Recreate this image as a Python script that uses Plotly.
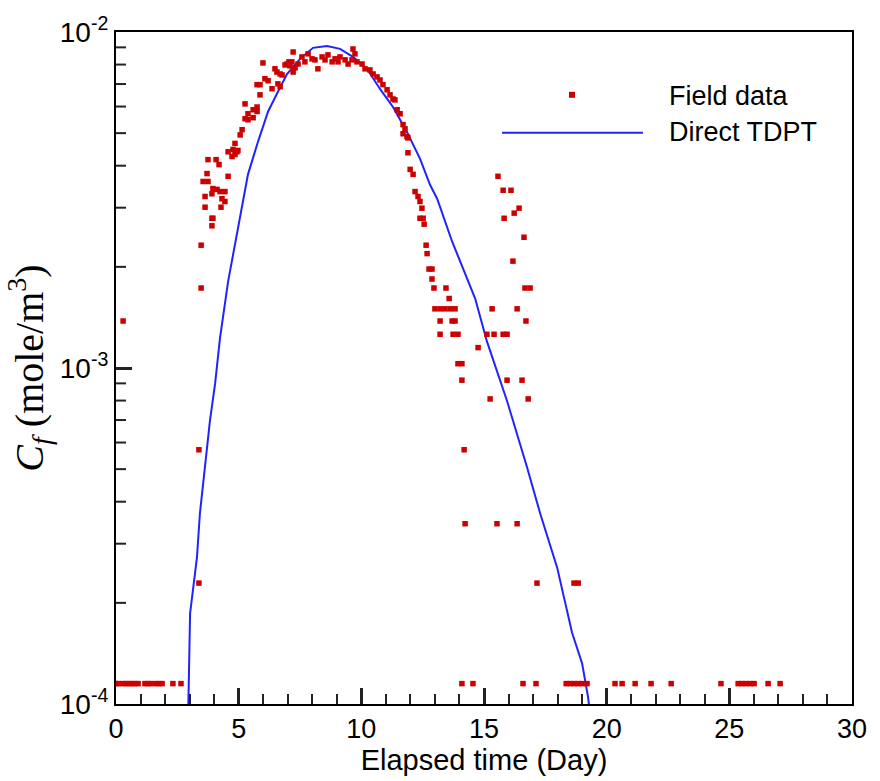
import math
import plotly.graph_objects as go

# ---------------- data ----------------
# Field data: elapsed time (day) and concentration (mole/m^3)
field_day = [
    0.0, 0.1, 0.29, 0.41, 0.53, 0.65, 0.77, 0.9, 1.18, 1.3, 1.43, 1.63, 1.75, 1.88, 2.32, 2.65,
    14.1, 14.55, 16.59, 17.12, 18.35, 18.51, 18.67, 18.84, 19.0, 19.2, 20.34, 20.63, 21.16,
    21.81, 22.63, 24.66, 25.36, 25.52, 25.68, 25.85, 26.01, 26.58, 27.07,
    0.29, 3.47, 3.38, 3.38, 3.47,
    3.75, 4.08, 4.20, 3.71, 3.55, 3.75, 3.95, 4.12, 4.24, 4.44, 3.91, 4.32, 4.44, 3.63, 3.63,
    4.28, 3.91, 3.95, 3.91, 4.57,
    5.14, 5.06, 4.85, 4.77, 4.57, 4.73, 4.93, 4.97, 4.85,
    5.26, 5.75, 5.59, 5.38, 5.26, 5.38, 5.59, 5.75,
    5.75, 5.87, 6.07, 6.20, 6.36, 6.60, 6.69, 5.87,
    5.99, 6.48, 6.56, 6.69, 6.77, 6.97, 7.09, 7.22, 7.17,
    7.22, 6.89, 7.05, 7.30, 7.42, 7.58, 7.70, 7.83, 7.99, 8.11, 8.23, 8.40, 8.52, 8.64, 8.81,
    8.93, 9.05, 9.13, 9.34, 9.46, 9.62, 9.66, 9.74, 9.82,
    10.03, 10.15, 10.35, 10.48, 10.64, 10.76, 10.88, 11.05, 11.17, 11.29,
    11.37, 11.46, 11.58, 11.70, 11.78, 11.70, 11.86, 11.90, 11.90, 11.99, 12.11, 12.19, 12.31,
    12.39, 12.47, 12.39, 12.52, 12.56, 12.64, 12.68, 12.76, 12.88, 12.88, 12.96, 13.45, 13.58,
    13.00, 13.21, 13.41, 13.62, 13.82, 13.21, 13.70, 13.82, 13.21, 13.74, 13.94, 14.76,
    13.94, 14.10, 14.10, 14.19, 14.23,
    15.12, 15.41, 15.78, 15.94, 15.33, 15.57, 15.78, 16.10, 16.43, 16.23, 15.82, 16.63, 16.18,
    16.67, 16.88, 16.35, 16.71, 15.94, 16.55, 15.25, 16.80, 15.53, 16.35, 17.16, 18.67, 18.84,
]
field_conc = [
    1.15e-4, 1.15e-4, 1.15e-4, 1.15e-4, 1.15e-4, 1.15e-4, 1.15e-4, 1.15e-4, 1.15e-4, 1.15e-4,
    1.15e-4, 1.15e-4, 1.15e-4, 1.15e-4, 1.15e-4, 1.15e-4,
    1.15e-4, 1.15e-4, 1.15e-4, 1.15e-4, 1.15e-4, 1.15e-4, 1.15e-4, 1.15e-4, 1.15e-4, 1.15e-4,
    1.15e-4, 1.15e-4, 1.15e-4, 1.15e-4, 1.15e-4, 1.15e-4, 1.15e-4, 1.15e-4, 1.15e-4, 1.15e-4,
    1.15e-4, 1.15e-4, 1.15e-4,
    1.38e-3, 1.73e-3, 5.71e-4, 2.29e-4, 2.32e-3,
    4.17e-3, 4.17e-3, 4.03e-3, 3.79e-3, 3.59e-3, 3.59e-3, 3.42e-3, 3.40e-3, 3.35e-3, 3.35e-3,
    3.30e-3, 3.19e-3, 3.13e-3, 3.24e-3, 3.01e-3,
    3.01e-3, 2.79e-3, 2.79e-3, 2.65e-3, 3.72e-3,
    5.12e-3, 4.94e-3, 4.66e-3, 4.47e-3, 4.40e-3, 4.26e-3, 4.40e-3, 4.44e-3, 4.32e-3,
    6.11e-3, 5.98e-3, 5.87e-3, 5.71e-3, 5.52e-3, 5.48e-3, 5.56e-3, 5.80e-3,
    6.97e-3, 6.97e-3, 7.26e-3, 7.16e-3, 6.78e-3, 7.01e-3, 6.87e-3, 6.50e-3,
    8.09e-3, 7.77e-3, 7.60e-3, 7.50e-3, 7.45e-3, 8.03e-3, 7.93e-3, 7.60e-3, 8.15e-3,
    8.72e-3, 7.98e-3, 8.15e-3, 7.82e-3, 8.03e-3, 8.43e-3, 8.15e-3, 8.61e-3, 8.32e-3, 8.26e-3,
    7.77e-3, 8.43e-3, 8.26e-3, 8.55e-3, 8.15e-3,
    8.32e-3, 8.15e-3, 8.43e-3, 8.26e-3, 8.03e-3, 8.26e-3, 8.90e-3, 8.61e-3, 8.15e-3,
    8.03e-3, 7.77e-3, 7.71e-3, 7.50e-3, 7.35e-3, 7.20e-3, 6.97e-3, 6.73e-3, 6.50e-3, 6.32e-3,
    6.28e-3, 5.87e-3, 5.71e-3, 5.30e-3, 5.15e-3, 4.98e-3, 4.88e-3, 4.84e-3, 4.37e-3, 3.90e-3,
    3.77e-3, 3.35e-3, 3.24e-3,
    3.13e-3, 2.99e-3, 2.79e-3, 2.79e-3, 2.68e-3, 2.32e-3, 2.19e-3, 1.97e-3, 1.97e-3, 1.84e-3,
    1.73e-3, 1.73e-3, 1.61e-3,
    1.50e-3, 1.50e-3, 1.50e-3, 1.50e-3, 1.50e-3, 1.38e-3, 1.38e-3, 1.38e-3, 1.26e-3, 1.26e-3,
    1.26e-3, 1.15e-3,
    1.03e-3, 1.03e-3, 9.2e-4, 5.71e-4, 3.44e-4,
    1.26e-3, 1.26e-3, 1.26e-3, 1.26e-3, 1.50e-3, 3.72e-3, 3.38e-3, 3.38e-3, 2.99e-3, 2.89e-3,
    2.79e-3, 2.45e-3, 2.08e-3,
    1.73e-3, 1.73e-3, 1.50e-3, 1.38e-3, 9.2e-4, 9.2e-4, 8.09e-4, 8.09e-4, 3.44e-4, 3.44e-4,
    2.29e-4, 2.29e-4, 2.29e-4,
]

# Direct TDPT model curve
tdpt_day = [2.90, 2.95, 3.02, 3.30, 3.42, 3.63, 3.83, 4.04, 4.24, 4.57, 4.85, 5.14, 5.38, 5.79,
            6.20, 6.60, 6.97, 7.50, 8.03, 8.60, 9.13, 9.66, 10.23, 10.76, 11.29, 11.86, 12.39,
            12.80, 13.09, 13.70, 14.64, 15.12, 15.94, 16.76, 17.29, 17.98, 18.59, 19.00, 19.24,
            19.35]
tdpt_conc = [9.0e-5, 1.0e-4, 1.86e-4, 2.73e-4, 3.69e-4, 5.05e-4, 6.97e-4, 8.98e-4, 1.23e-3,
             1.81e-3, 2.33e-3, 2.99e-3, 3.77e-3, 4.72e-3, 5.80e-3, 6.64e-3, 7.50e-3, 8.32e-3,
             8.97e-3, 9.08e-3, 8.91e-3, 8.43e-3, 7.77e-3, 6.77e-3, 5.98e-3, 5.04e-3, 4.20e-3,
             3.51e-3, 3.19e-3, 2.38e-3, 1.61e-3, 1.20e-3, 7.98e-4, 5.05e-4, 3.69e-4, 2.55e-4,
             1.63e-4, 1.32e-4, 1.05e-4, 9.0e-5]

x_range = [0, 30]
x_major = [0, 5, 10, 15, 20, 25, 30]
y_range_log = [-4, -2]
y_tickvals = [1e-4, 1e-3, 1e-2]
y_ticktext = ["10<sup>-4</sup>", "10<sup>-3</sup>", "10<sup>-2</sup>"]
legend_names = ["Field data", "Direct TDPT"]

RED = "#cc0000"
BLUE = "#2222ff"
TICK = "#222222"
SANS = "Liberation Sans, Arial, sans-serif"
SERIF = "Liberation Serif, Times New Roman, serif"

PLOT_W = 880 - 116 - 28
PLOT_H = 781 - 30 - 77

fig = go.Figure()
fig.add_trace(go.Scatter(x=tdpt_day, y=tdpt_conc, mode="lines",
                         line=dict(color=BLUE, width=2), name=legend_names[1],
                         showlegend=False))
fig.add_trace(go.Scatter(x=field_day, y=field_conc, mode="markers",
                         marker=dict(symbol="square", size=5.5, color=RED, line=dict(width=0)),
                         name=legend_names[0], showlegend=False))

# minor log ticks on the y axis (2..9 of each decade), inside
for dec in range(y_range_log[0], y_range_log[1]):
    for k in range(2, 10):
        frac = (dec + math.log10(k) - y_range_log[0]) / (y_range_log[1] - y_range_log[0])
        fig.add_shape(type="line", xref="paper", yref="paper", x0=0, x1=10 / PLOT_W,
                      y0=frac, y1=frac, line=dict(color=TICK, width=2))

# manual legend (long line sample like the reference)
fig.add_shape(type="rect", xref="paper", yref="paper",
              x0=(569 - 116) / PLOT_W, x1=(575 - 116) / PLOT_W,
              y0=(704 - 96) / PLOT_H, y1=(704 - 90) / PLOT_H,
              fillcolor=RED, line=dict(width=0))
fig.add_shape(type="line", xref="paper", yref="paper",
              x0=(502 - 116) / PLOT_W, x1=(643 - 116) / PLOT_W,
              y0=(704 - 131) / PLOT_H, y1=(704 - 131) / PLOT_H,
              line=dict(color=BLUE, width=2))
for name, ypix in zip(legend_names, [94, 130]):
    fig.add_annotation(text=name, xref="paper", yref="paper",
                       x=(667 - 116) / PLOT_W, y=(704 - ypix) / PLOT_H,
                       xanchor="left", yanchor="middle", showarrow=False,
                       font=dict(family=SANS, size=27, color="black"))

fig.update_xaxes(range=x_range, tickmode="array", tickvals=x_major,
                 ticks="inside", ticklen=16, tickwidth=3, tickcolor=TICK,
                 minor=dict(ticks="inside", ticklen=10, tickwidth=2, tickcolor=TICK,
                            tickmode="linear", tick0=0, dtick=1),
                 showline=True, linewidth=2, linecolor="black", mirror=True,
                 showgrid=False, zeroline=False,
                 tickfont=dict(family=SANS, size=27, color="black"),
                 title=dict(text="Elapsed time (Day)", standoff=4,
                            font=dict(family=SANS, size=29, color="black")))
fig.update_yaxes(type="log", range=y_range_log, tickmode="array",
                 tickvals=y_tickvals, ticktext=y_ticktext,
                 ticks="inside", ticklen=16, tickwidth=3, tickcolor=TICK,
                 showline=True, linewidth=2, linecolor="black", mirror=True,
                 showgrid=False, zeroline=False,
                 tickfont=dict(family=SANS, size=28, color="black"),
                 title=dict(text="<i>C</i><sub><i>f</i></sub> (mole/m<sup>3</sup>)", standoff=4,
                            font=dict(family=SERIF, size=40, color="black")))

fig.update_layout(width=880, height=781,
                  margin=dict(l=116, r=28, t=30, b=77),
                  paper_bgcolor="white", plot_bgcolor="white",
                  showlegend=False)

fig.write_html("out.html")
